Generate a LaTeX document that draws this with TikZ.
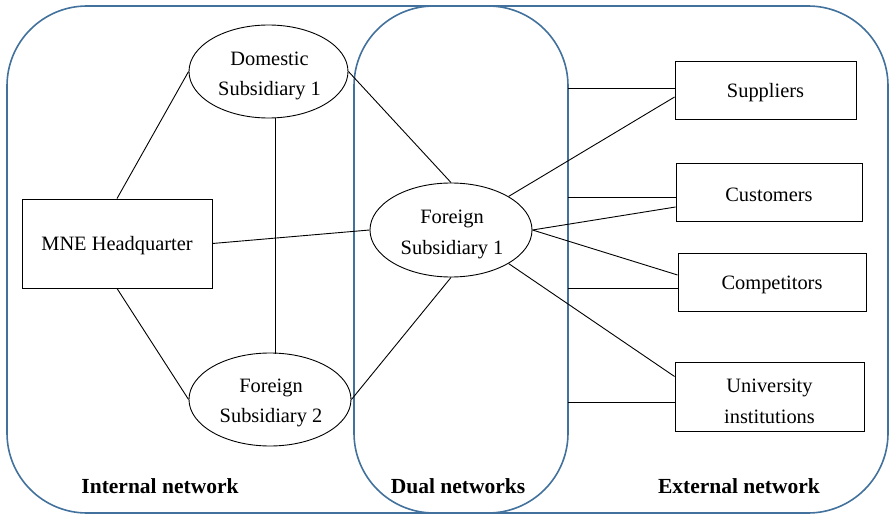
\documentclass[tikz,border=0pt]{standalone}
\usepackage{fontspec}
\setmainfont{Liberation Serif}
\usetikzlibrary{shapes.geometric,calc}
\definecolor{netblue}{RGB}{65,113,156}
\begin{document}
\begin{tikzpicture}[x=1pt,y=-1pt,
  region/.style={draw=netblue,line width=1.6pt,rounded corners=80pt},
  ell/.style={ellipse,draw,line width=0.9pt,inner sep=0pt},
  box/.style={rectangle,draw,line width=0.9pt,inner sep=0pt},
  txt/.style={inner sep=0pt,align=center,font=\fontsize{20.4}{30.5}\selectfont},
  link/.style={line width=0.9pt},
  title/.style={font=\fontsize{21.5}{26}\selectfont\bfseries}]
\useasboundingbox (0,0) rectangle (889,516);
\draw[region] (7,6) rectangle (568,513);
\draw[region] (354,6) rectangle (888,513);
\coordinate (dualR) at (568,0);
% shapes
\node[ell,minimum width=159pt,minimum height=93pt] (dom) at (268.5,71.5) {};
\node[ell,minimum width=162pt,minimum height=93pt] (fs2) at (270,399.5) {};
\node[ell,minimum width=162pt,minimum height=94pt] (fs1) at (451,230) {};
\node[box,minimum width=190pt,minimum height=89pt] (hq) at (117,243.5) {};
\node[box,minimum width=181pt,minimum height=58pt] (sup) at (765.5,90) {};
\node[box,minimum width=186pt,minimum height=58pt] (cus) at (769,192) {};
\node[box,minimum width=188pt,minimum height=58pt] (com) at (772,282) {};
\node[box,minimum width=189pt,minimum height=69pt] (uni) at (769.5,396.5) {};
% texts
\node[txt] (domt) at ($(dom)+(1,4.5)$) {Domestic\\Subsidiary 1};
\node[txt] (fs2t) at ($(fs2)+(1,3.5)$) {Foreign\\Subsidiary 2};
\node[txt] (fs1t) at ($(fs1)+(1,4.5)$) {Foreign\\Subsidiary 1};
\node[txt] (hqt) at ($(hq)+(0,2.5)$) {MNE Headquarter};
\node[txt] (supt) at ($(sup)+(0,3)$) {Suppliers};
\node[txt] (cust) at ($(cus)+(0,2.5)$) {Customers};
\node[txt] (comt) at ($(com)+(0,3)$) {Competitors};
\node[txt] (unit) at ($(uni)+(0,5)$) {University\\institutions};
\node[title] (tint) at (160,486) {Internal network};
\node[title] (tdual) at (458,486) {Dual networks};
\node[title] (text) at (739,486) {External network};
% internal links
\draw[link] (hq.north) -- (dom.west);
\draw[link] (hq.south) -- (fs2.west);
\draw[link] ($(dom.south)+(6.5,0)$) -- ($(fs2.north)+(5,1)$);
\draw[link] (hq.east) -- (fs1.west);
\draw[link] (dom.east) -- (fs1.north);
\draw[link] (fs2.east) -- (fs1.south);
% external links
\draw[link] (fs1.north east) -- ($(sup.west)+(0,7)$);
\draw[link] (fs1.east) -- ($(cus.west)+(0,15)$);
\draw[link] (fs1.east) -- ($(com.west)+(0,-7)$);
\draw[link] (fs1.south east) -- ($(uni.west)+(0,-20)$);
% horizontal links from dual boundary
\coordinate (h1) at ($(sup.west)+(0,-2)$);
\coordinate (h2) at ($(cus.west)+(0,5)$);
\coordinate (h3) at ($(com.west)+(0,6)$);
\coordinate (h4) at ($(uni.west)+(0,5.5)$);
\draw[link] (h1) -- (h1 -| dualR);
\draw[link] (h2) -- (h2 -| dualR);
\draw[link] (h3) -- (h3 -| dualR);
\draw[link] (h4) -- (h4 -| dualR);
\end{tikzpicture}
\end{document}
